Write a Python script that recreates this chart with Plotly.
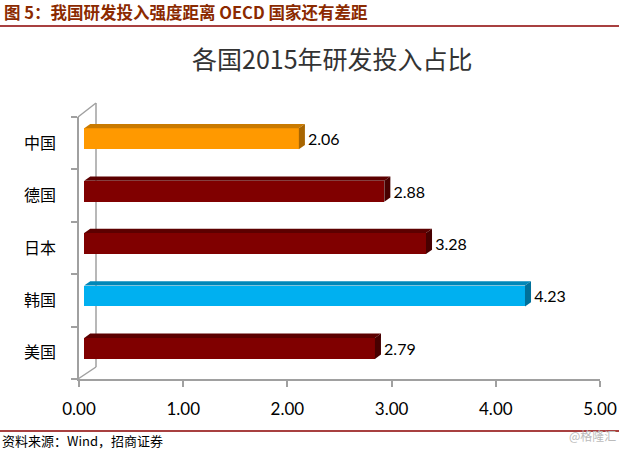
import plotly.graph_objects as go

# ---------------- data ----------------
categories = ["中国", "德国", "日本", "韩国", "美国"]
values = [2.06, 2.88, 3.28, 4.23, 2.79]
x_ticks = [0, 1, 2, 3, 4, 5]

title_text = "各国2015年研发投入占比"
header_text = "图 5：我国研发投入强度距离 OECD 国家还有差距"
source_text = "资料来源：Wind，招商证券"
watermark_text = "@格隆汇"

# ---------------- style ----------------
W, H = 619, 450
FRONT = {"中国": "#FF9900", "韩国": "#00B0F0"}
TOP = {"中国": "#C97A00", "韩国": "#0087B8"}
SIDE = {"中国": "#A86500", "韩国": "#00709A"}
RED_FRONT, RED_TOP, RED_SIDE = "#800000", "#5C0000", "#480000"

BASE = 0.05          # projection offset of bar front faces (x units)
BAR_W = 0.40         # front face thickness (category units)
FACE_SHIFT = -0.084  # front face centre shift (category units, upward)
DX, DY = 0.058, 0.082  # bar depth projection
LABEL_PAD = 0.03
AXIS_GREY = "#A0A0A0"

# plot area pixels
PX0, PX1 = 79, 600
PY_TOP, PY_BOT = 117, 379

def px(x):
    return x / W

def py(y):
    return 1 - y / H

fig = go.Figure()

ypos = list(range(len(categories)))
front_cols = [FRONT.get(c, RED_FRONT) for c in categories]

for i, (c, v) in enumerate(zip(categories, values)):
    yt = i + FACE_SHIFT - BAR_W / 2
    yb = yt + BAR_W
    x0, x1 = BASE, BASE + v
    fig.add_trace(go.Scatter(
        x=[x0, x1, x1 + DX, x0 + DX, x0],
        y=[yt, yt, yt - DY, yt - DY, yt],
        fill="toself", mode="lines", line=dict(width=0),
        fillcolor=TOP.get(c, RED_TOP), hoverinfo="skip", showlegend=False))
    fig.add_trace(go.Scatter(
        x=[x1, x1 + DX, x1 + DX, x1, x1],
        y=[yt, yt - DY, yb - DY, yb, yt],
        fill="toself", mode="lines", line=dict(width=0),
        fillcolor=SIDE.get(c, RED_SIDE), hoverinfo="skip", showlegend=False))

fig.add_trace(go.Bar(
    y=ypos, x=values, base=BASE, orientation="h",
    width=BAR_W, offset=FACE_SHIFT - BAR_W / 2,
    marker=dict(color=front_cols, line=dict(width=0)),
    hoverinfo="skip", showlegend=False))

fig.add_trace(go.Scatter(
    x=[BASE + v + DX + LABEL_PAD for v in values], y=[i - 0.04 for i in ypos],
    mode="text", text=[f"{v:.2f}" for v in values],
    textposition="middle right",
    textfont=dict(family="Lato, Carlito, sans-serif", size=16, color="#000000"),
    hoverinfo="skip", showlegend=False, cliponaxis=False))

fig.update_layout(
    width=W, height=H,
    margin=dict(l=0, r=0, t=0, b=0, pad=0, autoexpand=False),
    paper_bgcolor="white", plot_bgcolor="white",
    showlegend=False,
    bargap=0,
    xaxis=dict(
        domain=[px(PX0), px(PX1)], range=[0, 5], automargin=False,
        tickvals=x_ticks, tickformat=".2f",
        showgrid=False, zeroline=False,
        showline=True, linecolor=AXIS_GREY, linewidth=1.5,
        ticks="outside", ticklen=6, tickcolor=AXIS_GREY, tickwidth=1.5,
        tickfont=dict(family="Lato, Carlito, sans-serif", size=17, color="#000000"),
        ticklabelstandoff=8,
    ),
    yaxis=dict(
        domain=[py(PY_BOT), py(PY_TOP)], range=[len(categories) - 0.5, -0.5],
        automargin=False,
        tickvals=ypos, ticktext=categories,
        showgrid=False, zeroline=False,
        showline=True, linecolor=AXIS_GREY, linewidth=1.5,
        ticks="",
        minor=dict(ticks="outside", tick0=-0.5, dtick=1, ticklen=6,
                   tickcolor=AXIS_GREY, tickwidth=1.5, showgrid=False),
        tickfont=dict(family="Noto Sans CJK SC", size=16, color="#000000"),
        ticklabelstandoff=18,
    ),
)

wall_x = 96
wall_top = 103
wall_bot = 367
for (xa, ya, xb, yb_) in [
    (PX0 - 1, PY_TOP, wall_x, wall_top),
    (wall_x, wall_top, wall_x, wall_bot),
    (PX0 - 1, PY_BOT, wall_x, wall_bot),
]:
    fig.add_shape(type="line", xref="paper", yref="paper",
                  x0=px(xa), y0=py(ya), x1=px(xb), y1=py(yb_),
                  line=dict(color=AXIS_GREY, width=1.5), layer="below")

fig.add_shape(type="line", xref="paper", yref="paper",
              x0=0, x1=1, y0=py(26), y1=py(26),
              line=dict(color="#8B0000", width=1.5))
fig.add_shape(type="line", xref="paper", yref="paper",
              x0=0, x1=1, y0=py(431), y1=py(431),
              line=dict(color="#8B0000", width=1.5))

fig.add_annotation(text=f"<b>{header_text}</b>", xref="paper", yref="paper",
                   x=px(2), y=py(12), xanchor="left", yanchor="middle",
                   showarrow=False,
                   font=dict(family="Noto Sans CJK SC", size=16.5, color="#8B2A00"))
fig.add_annotation(text=title_text, xref="paper", yref="paper",
                   x=px(333), y=py(58), xanchor="center", yanchor="middle",
                   showarrow=False,
                   font=dict(family="Noto Sans CJK SC", size=25, color="#333333"))
fig.add_annotation(text=source_text, xref="paper", yref="paper",
                   x=px(0), y=py(440), xanchor="left", yanchor="middle",
                   showarrow=False,
                   font=dict(family="Noto Sans CJK SC", size=13, color="#000000"))
fig.add_annotation(text=watermark_text, xref="paper", yref="paper",
                   x=px(618), y=py(435), xanchor="right", yanchor="middle",
                   showarrow=False,
                   font=dict(family="Noto Sans CJK SC", size=12, color="#BBBBBB"))

fig.write_html("out.html",
               config={"displayModeBar": False},
               post_script="document.body.style.margin='0';document.body.style.overflow='hidden';")
